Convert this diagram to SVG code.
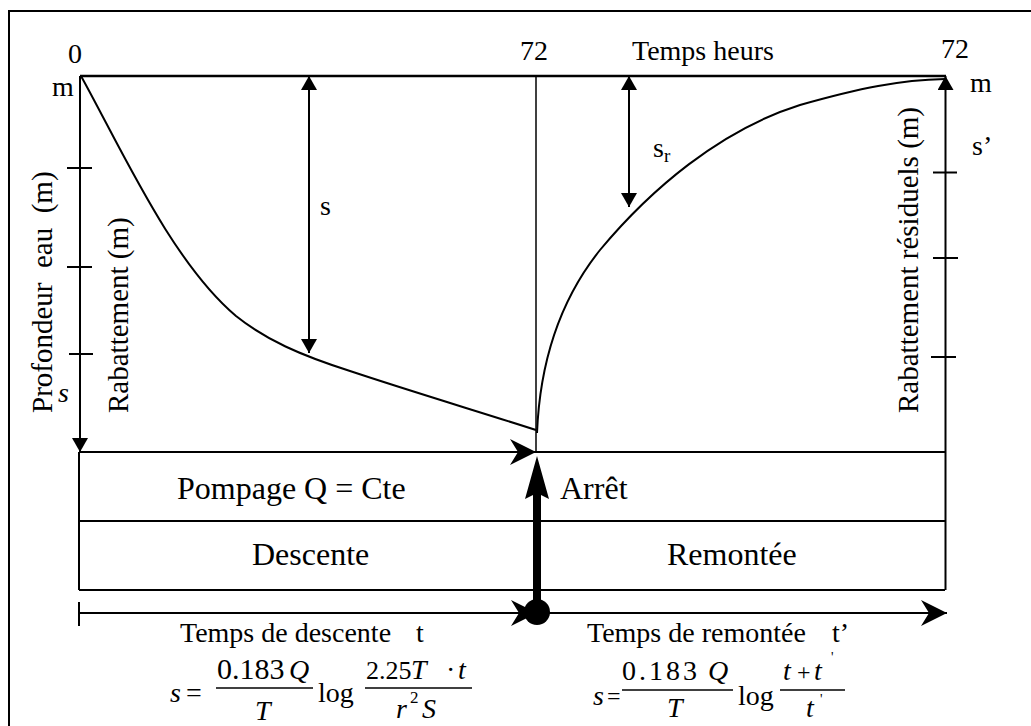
<svg xmlns="http://www.w3.org/2000/svg" width="1031" height="726" viewBox="0 0 1031 726" font-family="'Liberation Serif','Times New Roman',serif">
<defs>
<marker id="tri" viewBox="0 0 14 16" refX="14" refY="8" markerWidth="14" markerHeight="16" markerUnits="userSpaceOnUse" orient="auto-start-reverse"><path d="M0,0 L14,8 L0,16 Z" fill="#000"/></marker>
<marker id="stealth" viewBox="0 0 26 26" refX="26" refY="13" markerWidth="26" markerHeight="26" markerUnits="userSpaceOnUse" orient="auto"><path d="M0,0 L26,13 L0,26 L8,13 Z" fill="#000"/></marker>
</defs>
<style>
.ln{stroke:#000;stroke-width:2;fill:none}
.thin{stroke:#000;stroke-width:1.5;fill:none}
.bold{stroke:#000;stroke-width:2.5;fill:none}
text{font-family:"Liberation Serif","Times New Roman",serif;fill:#000}
.t28{font-size:28px}
.t29{font-size:29px}
.t32{font-size:32px}
.f28{font-size:28px}
.f30{font-size:30px}
.i{font-style:italic}
</style>
<rect width="1031" height="726" fill="#fff"/>
<rect x="9" y="11" width="1040" height="740" fill="none" stroke="#000" stroke-width="2"/>

<g id="axes">
<line class="bold" x1="80" y1="76" x2="946" y2="76"/>
<line class="ln" x1="80" y1="76" x2="80" y2="452" marker-end="url(#tri)"/>
<line class="ln" x1="945.5" y1="590" x2="945.5" y2="76" marker-end="url(#tri)"/>
<line class="thin" x1="536" y1="76" x2="536" y2="452"/>
<line class="ln" x1="67" y1="168" x2="92" y2="168"/>
<line class="ln" x1="67" y1="267" x2="92" y2="267"/>
<line class="ln" x1="69" y1="354" x2="93" y2="354"/>
<line class="ln" x1="933" y1="172.5" x2="957" y2="172.5"/>
<line class="ln" x1="933" y1="258" x2="958" y2="258"/>
<line class="ln" x1="931" y1="357" x2="956" y2="357"/>
</g>

<g id="curves">
<path class="ln" d="M81,76 C122,150 172,262 236,316 C266,340 300,355 350,371 C410,391 480,412 536,430"/>
<path class="ln" d="M537,433 C540,360 560,300 600,250 C650,190 720,130 800,105 C860,88 900,80 945,79"/>
</g>

<g id="boxes">
<line class="ln" x1="536" y1="452" x2="945" y2="452"/>
<line class="ln" x1="79" y1="452" x2="79" y2="590"/>
<line class="ln" x1="79" y1="521" x2="945" y2="521"/>
<line class="ln" x1="79" y1="590" x2="945" y2="590"/>
</g>

<g id="connectors">
<line class="ln" x1="309" y1="76" x2="309" y2="353" marker-start="url(#tri)" marker-end="url(#tri)"/>
<line class="ln" x1="629" y1="76" x2="629" y2="207" marker-start="url(#tri)" marker-end="url(#tri)"/>
<line class="ln" x1="80" y1="452" x2="536" y2="452" marker-end="url(#stealth)"/>
<line class="ln" x1="79" y1="613" x2="947" y2="613" marker-end="url(#stealth)"/>
<line class="ln" x1="79" y1="613" x2="537" y2="613" marker-end="url(#stealth)"/>
<line class="ln" x1="79" y1="602" x2="79" y2="626"/>
<line stroke="#000" stroke-width="8" x1="537" y1="612" x2="537" y2="490"/>
<polygon points="537,456 549,499 537,493 525,499" fill="#000"/>
<circle cx="537" cy="612" r="13" fill="#000"/>
</g>

<g id="labels">
<text class="t28" x="68" y="63">0</text>
<text class="t28" x="52" y="96">m</text>
<text class="t28" x="520" y="60">72</text>
<text class="t28" x="632" y="60">Temps heurs</text>
<text class="t28" x="941" y="58">72</text>
<text class="t28" x="970" y="92">m</text>
<text class="t28" x="972" y="155">s’</text>
<text class="t28" x="320" y="215">s</text>
<text class="t28" x="653" y="157">s<tspan font-size="19" dy="5">r</tspan></text>
<text class="t28 i" x="58" y="402">s</text>
<text class="t29" transform="translate(52,413) rotate(-90)" xml:space="preserve">Profondeur  eau  (m)</text>
<text class="t29" transform="translate(128,413) rotate(-90)">Rabattement (m)</text>
<text class="t29" transform="translate(918,413) rotate(-90)">Rabattement résiduels (m)</text>
<text class="t32" x="177" y="499">Pompage Q = Cte</text>
<text class="t32" x="560" y="499">Arrêt</text>
<text class="t32" x="252" y="565">Descente</text>
<text class="t32" x="667" y="565">Remontée</text>
<text class="t28" x="180" y="642">Temps de descente</text>
<text class="t28" x="416" y="642">t</text>
<text class="t28" x="587" y="642">Temps de remontée</text>
<text class="t28" x="832" y="642">t’</text>
</g>

<g id="formula-descente">
<text class="f28 i" x="170" y="702">s</text>
<text class="f28" x="186" y="702">=</text>
<text class="f30" x="217" y="679">0.183</text>
<text class="f28 i" x="289" y="679">Q</text>
<line class="thin" x1="216" y1="688" x2="313" y2="688"/>
<text class="f28 i" x="255" y="720">T</text>
<text class="f28" x="318" y="702">log</text>
<text font-size="26" x="366" y="679">2.25</text>
<text class="f28 i" x="411" y="679">T</text>
<text class="f28" x="446" y="679">·</text>
<text class="f28 i" x="458" y="679">t</text>
<line class="thin" x1="365" y1="688" x2="472" y2="688"/>
<text class="f28 i" x="396" y="718">r</text>
<text font-size="17" x="410" y="703">2</text>
<text class="f28 i" x="422" y="718">S</text>
</g>

<g id="formula-remontee">
<text class="f28 i" x="593" y="705">s</text>
<text font-size="24" x="607" y="704">=</text>
<text class="f28" x="622" y="680" textLength="75">0.183</text>
<text class="f28 i" x="708" y="680">Q</text>
<line class="thin" x1="622" y1="690" x2="733" y2="690"/>
<text class="f28 i" x="667" y="717">T</text>
<text class="f28" x="738" y="705">log</text>
<text class="f28 i" x="783" y="680">t</text>
<text font-size="24" x="797" y="680">+</text>
<text class="f28 i" x="814" y="680">t</text>
<text font-size="14" x="831" y="662">'</text>
<line class="thin" x1="780" y1="690" x2="845" y2="690"/>
<text class="f28 i" x="806" y="717">t</text>
<text font-size="14" x="820" y="704">'</text>
</g>
</svg>
